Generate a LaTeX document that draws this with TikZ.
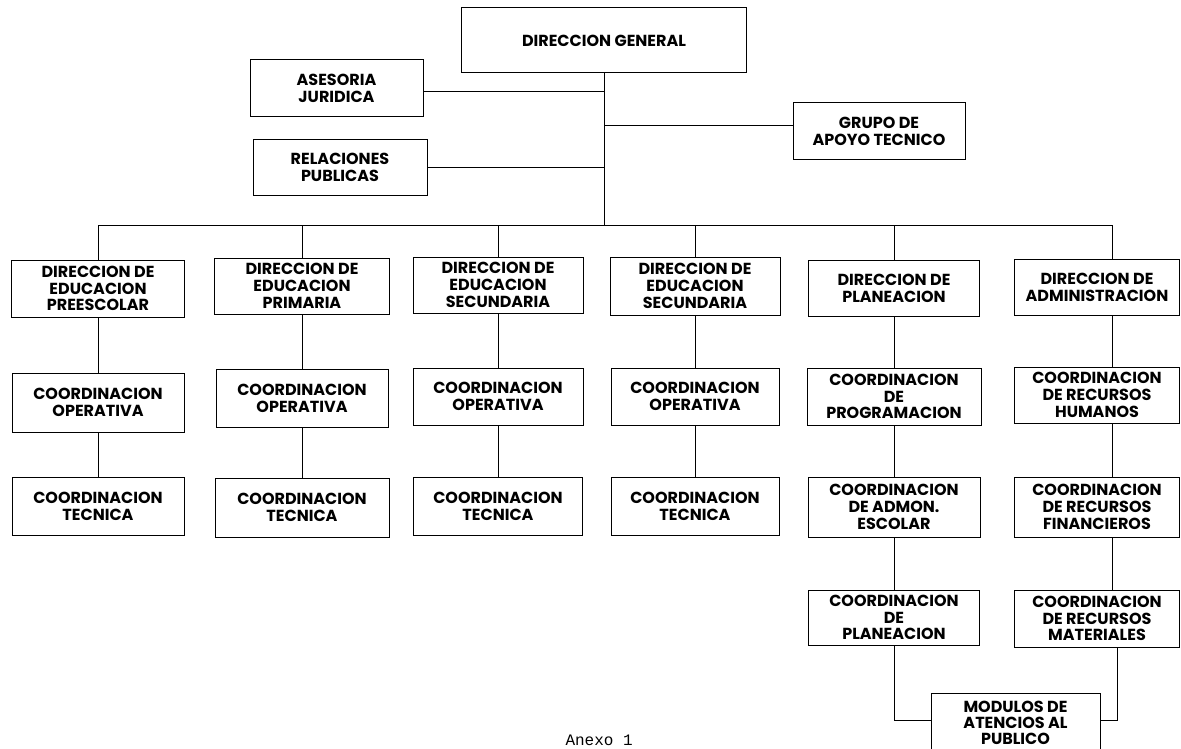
\documentclass[tikz,border=0pt]{standalone}
\usepackage{fontspec}
\setmainfont{Poppins}
\setmonofont{Liberation Mono}
\usetikzlibrary{positioning}

\tikzset{
  box/.style={draw, line width=1pt, align=center, inner sep=1pt,
    minimum width=172pt, minimum height=57pt,
    font=\fontsize{16}{16.8}\selectfont\bfseries},
  wide/.style={minimum width=165pt},
  link/.style={line width=1pt},
}

\begin{document}
\begin{tikzpicture}[x=1pt,y=-1pt]
\useasboundingbox (0,0) rectangle (1181,749);
\fill[white] (0,0) rectangle (1181,749);
% top level and staff units
\node[box, minimum width=285pt, minimum height=65pt] (dg) at (604,40.5) {DIRECCION GENERAL};
\node[box, minimum width=173pt] (aj) at (336.5,88.5) {ASESORIA\\JURIDICA};
\node[box, minimum width=174pt, minimum height=55pt] (rp) at (340,167.5) {RELACIONES\\PUBLICAS};
\node[box] (ga) at (879,131.5) {GRUPO DE\\APOYO TECNICO};
\coordinate (busL) at (98,225);
\coordinate (busR) at (1112,225);
% direcciones
\node[box, minimum width=173pt] (d1) at (98,288.5) {DIRECCION DE\\EDUCACION\\PREESCOLAR};
\node[box, minimum width=175pt, minimum height=56pt] (d2) at (302,286) {DIRECCION DE\\EDUCACION\\PRIMARIA};
\node[box, minimum width=170pt, minimum height=56pt] (d3) at (498,285) {DIRECCION DE\\EDUCACION\\SECUNDARIA};
\node[box, minimum width=170pt, minimum height=58pt] (d4) at (695,286) {DIRECCION DE\\EDUCACION\\SECUNDARIA};
\node[box, minimum width=171pt, minimum height=56pt] (d5) at (894,288) {DIRECCION DE\\PLANEACION};
\node[box, wide, minimum height=56pt] (d6) at (1097,287) {DIRECCION DE\\ADMINISTRACION};
% coordinaciones
\node[box, minimum height=59pt] (o1) at (98,402.5) {COORDINACION\\OPERATIVA};
\node[box, minimum height=58pt] (o2) at (302,398) {COORDINACION\\OPERATIVA};
\node[box, minimum width=170pt] (o3) at (498,396.5) {COORDINACION\\OPERATIVA};
\node[box, minimum width=168pt] (o4) at (695,396.5) {COORDINACION\\OPERATIVA};
\node[box, minimum width=174pt] (o5) at (894,396.5) {COORDINACION\\DE\\PROGRAMACION};
\node[box, wide, minimum height=56pt] (o6) at (1097,395) {COORDINACION\\DE RECURSOS\\HUMANOS};
\node[box, minimum height=58pt] (t1) at (98,506) {COORDINACION\\TECNICA};
\node[box, minimum width=174pt, minimum height=59pt] (t2) at (302,507.5) {COORDINACION\\TECNICA};
\node[box, minimum width=169pt, minimum height=58pt] (t3) at (498,506) {COORDINACION\\TECNICA};
\node[box, minimum width=168pt, minimum height=58pt] (t4) at (695,506) {COORDINACION\\TECNICA};
\node[box, minimum height=60pt] (t5) at (894,507) {COORDINACION\\DE ADMON.\\ESCOLAR};
\node[box, wide, minimum height=60pt] (t6) at (1097,507) {COORDINACION\\DE RECURSOS\\FINANCIEROS};
\node[box, minimum width=171pt, minimum height=55pt] (p5) at (894,617.5) {COORDINACION\\DE\\PLANEACION};
\node[box, wide] (m6) at (1097,618.5) {COORDINACION\\DE RECURSOS\\MATERIALES};
\node[box, minimum width=169pt, minimum height=60pt, font=\fontsize{16}{16}\selectfont\bfseries] (mod) at (1015.5,723) {MODULOS DE\\ATENCIOS AL\\PUBLICO};
\node[font=\ttfamily\fontsize{16}{16}\selectfont, anchor=base west] (anexo) at (562,745) {Anexo 1};

% lines
\draw[link] (dg.south) -- (dg.south |- busL);
\draw[link] ([yshift=-3.5pt]aj.east) -- ([yshift=-3.5pt]aj.east -| dg.south);
\draw[link] (rp.east) -- (rp.east -| dg.south);
\draw[link] ([yshift=5.5pt]ga.west) -- ([yshift=5.5pt]ga.west -| dg.south);
\draw[link] (busL) -- (busR);
\foreach \n in {d1,d2,d3,d4,d5}
  \draw[link] (\n.north |- busL) -- (\n.north);
\draw[link] (busR) -- (busR |- d6.north);
\foreach \a/\b in {d1/o1,o1/t1,d2/o2,o2/t2,d3/o3,o3/t3,d4/o4,o4/t4,d5/o5,o5/t5,t5/p5}
  \draw[link] (\a.south) -- (\b.north);
\foreach \a/\b in {d6/o6,o6/t6,t6/m6}
  \draw[link] ([xshift=15pt]\a.south) -- ([xshift=15pt]\b.north);
\draw[link] (p5.south) |- ([yshift=3pt]mod.west);
\draw[link] ([xshift=20pt]m6.south) |- ([yshift=3pt]mod.east);
\end{tikzpicture}
\end{document}
